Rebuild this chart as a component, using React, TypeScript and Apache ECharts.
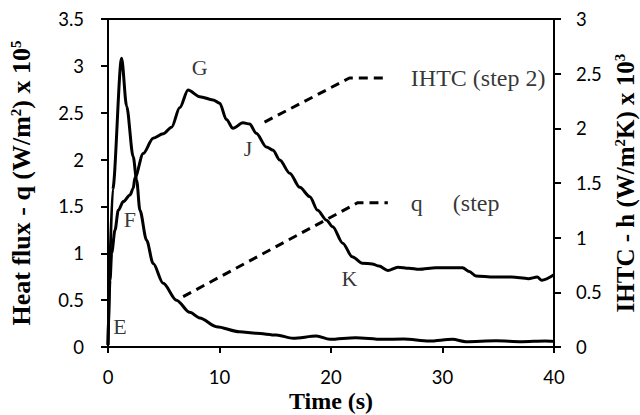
import React, { useEffect, useRef } from "react";
import * as echarts from "echarts";

// Heat flux q (left axis, x 10^5 W/m2)
const qTime = [0, 0.42, 1.22, 1.67, 2.26, 2.57, 2.86, 3.46, 4.05, 4.95, 6.14, 7.33, 8.23, 9.72, 11.8, 13.3, 15.1, 16.6, 18.7, 19.9, 22.2, 24.6, 26.5, 28.8, 30.9, 32.1, 34.8, 37.1, 39.2, 40];
const qFlux = [0.02, 1.68, 3.08, 2.57, 2.03, 1.78, 1.46, 1.14, 0.89, 0.68, 0.5, 0.37, 0.31, 0.217, 0.163, 0.146, 0.128, 0.093, 0.117, 0.082, 0.1, 0.082, 0.085, 0.064, 0.082, 0.057, 0.067, 0.057, 0.064, 0.06];

// IHTC h (right axis, x 10^3 W/m2K)
const hTime = [0, 0.18, 0.33, 0.63, 0.92, 1.37, 1.97, 2.26, 2.42, 3.16, 4.05, 4.95, 5.7, 6.44, 7.18, 8.23, 9.42, 10.02, 10.62, 11.21, 12.1, 12.7, 13.3, 14.2, 14.8, 15.4, 16.3, 17.2, 18.1, 18.8, 19.6, 20.15, 21.05, 21.9, 22.8, 23.7, 24.3, 25.1, 26.0, 27.0, 27.9, 29.4, 31.8, 32.4, 33.0, 34.6, 36.2, 37.7, 38.5, 38.9, 40];
const hIHTC = [0.02, 0.61, 0.86, 1.07, 1.25, 1.33, 1.39, 1.45, 1.55, 1.77, 1.91, 1.95, 2.01, 2.19, 2.35, 2.29, 2.26, 2.23, 2.08, 2.0, 2.05, 2.04, 1.955, 1.83, 1.8, 1.71, 1.59, 1.46, 1.375, 1.25, 1.16, 1.1, 0.95, 0.826, 0.766, 0.76, 0.74, 0.7, 0.73, 0.72, 0.71, 0.725, 0.725, 0.69, 0.65, 0.64, 0.64, 0.625, 0.64, 0.61, 0.66];

// Dashed leader lines (left-axis units)
const ihtcLeaderX = [14.04, 21.65, 25.04];
const ihtcLeaderY = [2.4, 2.87, 2.87];
const qLeaderX = [6.74, 22.4, 25.1];
const qLeaderY = [0.537, 1.54, 1.54];

// Point letters (left-axis units)
const letters = ["E", "F", "G", "J", "K"];
const letterX = [1.07, 1.97, 8.23, 12.55, 21.65];
const letterY = [0.217, 1.357, 2.98, 2.12, 0.73];

// Leader labels
const leaderTexts = ["IHTC (step 2)", "q     (step"];
const leaderTextX = [27.16, 27.16];
const leaderTextY = [2.87, 1.54];

const leftTicks = { min: 0, max: 3.5, interval: 0.5 };
const rightTicks = { min: 0, max: 3, interval: 0.5 };
const xTicks = { min: 0, max: 40, interval: 10 };

const SERIF = "'Liberation Serif', 'Times New Roman', serif";
const SANS = "Lato, Carlito, Calibri, sans-serif";

export default function App() {
  const ref = useRef<HTMLDivElement>(null);
  useEffect(() => {
    if (!ref.current) return;
    const chart = echarts.init(ref.current, undefined, { renderer: "svg" });
    const zip = (xs: number[], ys: number[]) => xs.map((x, i) => [x, ys[i]]);
    const axisLabel = { color: "#000", fontFamily: SANS, fontSize: 18.5 };
    const axisLine = { show: true, lineStyle: { color: "#000", width: 2 } };
    const axisTick = { show: true, length: 7, lineStyle: { color: "#000", width: 2 } };
    const nameBase = { color: "#000", fontFamily: SERIF, fontSize: 26, fontWeight: "bold" as const };
    const rich = {
      sup: { fontFamily: SERIF, fontSize: 15, fontWeight: "bold", color: "#000", padding: [0, 0, 11, 0] },
    };
    chart.setOption({
      animation: false,
      backgroundColor: "#fff",
      grid: {
        left: 108,
        right: 86,
        top: 19,
        bottom: 68,
        show: true,
        borderColor: "#000",
        borderWidth: 2,
        containLabel: false,
        outerBoundsMode: "none",
      },
      xAxis: {
        type: "value",
        ...xTicks,
        name: "Time (s)",
        nameLocation: "middle",
        nameGap: 44,
        nameMoveOverlap: false,
        nameTextStyle: { ...nameBase, fontSize: 24, lineHeight: 20 },
        axisLine,
        axisTick: { ...axisTick, length: 6 },
        axisLabel: { ...axisLabel, margin: 21, lineHeight: 18 },
        splitLine: { show: false },
      },
      yAxis: [
        {
          type: "value",
          ...leftTicks,
          position: "left",
          name: "Heat flux - q (W/m{sup|2}) x 10{sup|5}",
          nameLocation: "middle",
          nameRotate: 90,
          nameGap: 74,
          nameTextStyle: { ...nameBase, rich },
          axisLine,
          axisTick,
          axisLabel: { ...axisLabel, margin: 24 },
          splitLine: { show: false },
        },
        {
          type: "value",
          ...rightTicks,
          position: "right",
          name: "IHTC - h (W/m{sup|2}K) x 10{sup|3}",
          nameLocation: "middle",
          nameRotate: 90,
          nameGap: 56,
          nameTextStyle: { ...nameBase, fontSize: 25, rich },
          axisLine,
          axisTick,
          axisLabel: { ...axisLabel, margin: 22 },
          splitLine: { show: false },
        },
      ],
      series: [
        {
          name: "q",
          type: "line",
          yAxisIndex: 0,
          data: zip(qTime, qFlux),
          showSymbol: false,
          smooth: 0.3,
          smoothMonotone: "x",
          lineStyle: { color: "#000", width: 3 },
          z: 3,
        },
        {
          name: "IHTC",
          type: "line",
          yAxisIndex: 1,
          data: zip(hTime, hIHTC),
          showSymbol: false,
          smooth: 0.3,
          smoothMonotone: "x",
          lineStyle: { color: "#000", width: 3 },
          z: 3,
        },
        {
          name: "IHTC leader",
          type: "line",
          yAxisIndex: 0,
          data: zip(ihtcLeaderX, ihtcLeaderY),
          showSymbol: false,
          lineStyle: { color: "#000", width: 3, type: [9, 6] },
        },
        {
          name: "q leader",
          type: "line",
          yAxisIndex: 0,
          data: zip(qLeaderX, qLeaderY),
          showSymbol: false,
          lineStyle: { color: "#000", width: 3, type: [9, 6] },
        },
        {
          name: "letters",
          type: "scatter",
          yAxisIndex: 0,
          symbolSize: 0,
          data: letterX.map((x, i) => [x, letterY[i], letters[i]]),
          label: {
            show: true,
            position: "inside",
            formatter: (p: any) => p.value[2],
            color: "#000",
            fontFamily: SERIF,
            fontSize: 22,
          },
        },
        {
          name: "leader labels",
          type: "scatter",
          yAxisIndex: 0,
          symbolSize: 0,
          data: leaderTextX.map((x, i) => [x, leaderTextY[i], leaderTexts[i]]),
          label: {
            show: true,
            position: "inside",
            align: "left",
            formatter: (p: any) => p.value[2],
            color: "#000",
            fontFamily: SERIF,
            fontSize: 24,
          },
        },
      ],
    });
    return () => chart.dispose();
  }, []);
  return (
    <div
      ref={ref}
      style={{ position: "absolute", left: 0, top: 0, width: 640, height: 415, background: "#fff" }}
    />
  );
}
